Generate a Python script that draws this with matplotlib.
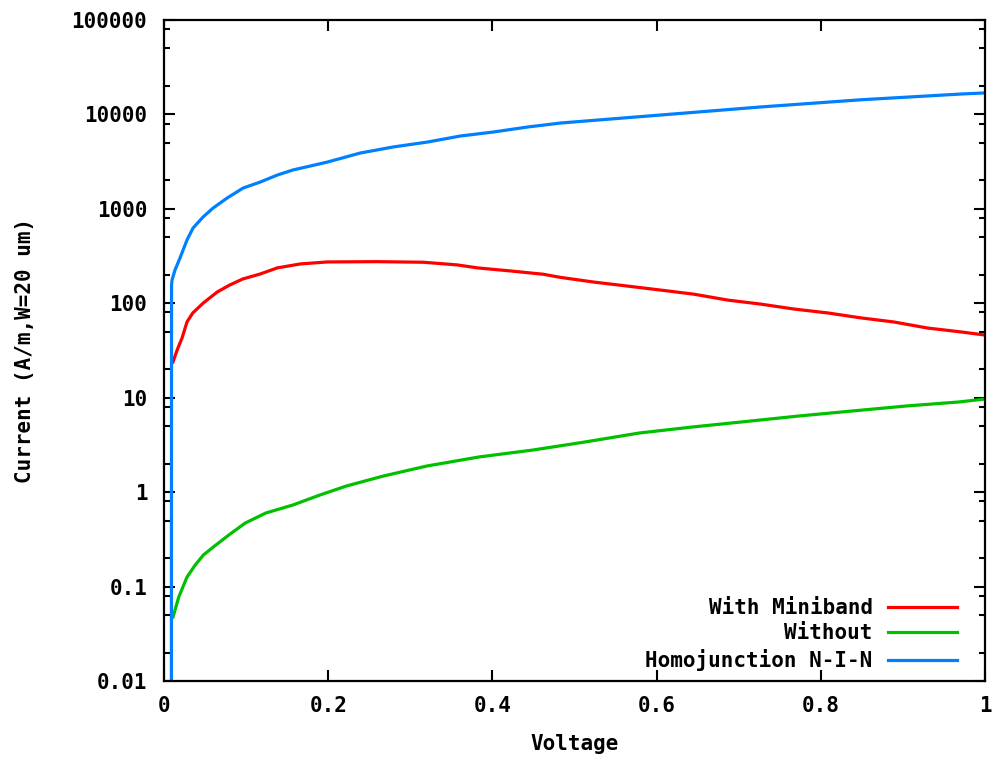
import matplotlib
matplotlib.use("Agg")
import matplotlib.pyplot as plt
from matplotlib.ticker import FixedLocator, NullFormatter

plt.rcParams['font.family'] = ['DejaVu Sans Mono']
plt.rcParams['font.weight'] = 'bold'
plt.rcParams['axes.labelweight'] = 'bold'

# voltage / current readings
miniband_v = [0.011, 0.016, 0.022, 0.028, 0.035, 0.048, 0.065, 0.080, 0.096, 0.117, 0.138, 0.166,
              0.199, 0.260, 0.316, 0.357, 0.382, 0.422, 0.462, 0.483, 0.523, 0.565, 0.605, 0.645,
              0.687, 0.727, 0.767, 0.809, 0.849, 0.889, 0.930, 0.971, 1.0]
miniband_i = [23.9, 32, 42.9, 63.4, 78.9, 101, 132, 156, 181, 204, 237, 261,
              274, 276, 272, 255, 237, 220, 203, 188, 168, 152, 138, 125,
              108, 98, 87, 78.9, 70, 63.4, 54.7, 49.7, 46.1]

without_v = [0.011, 0.018, 0.028, 0.038, 0.048, 0.060, 0.079, 0.099, 0.124, 0.157, 0.190, 0.222,
             0.267, 0.320, 0.384, 0.449, 0.513, 0.579, 0.644, 0.709, 0.773, 0.838, 0.904, 0.968, 1.0]
without_i = [0.0476, 0.0776, 0.126, 0.169, 0.216, 0.262, 0.352, 0.471, 0.601, 0.731, 0.933, 1.16,
             1.48, 1.89, 2.36, 2.79, 3.40, 4.23, 4.90, 5.60, 6.40, 7.23, 8.17, 9.01, 9.69]

homo_v = [0.009, 0.0092, 0.0098, 0.0134, 0.0195, 0.028, 0.0354, 0.0476, 0.0598, 0.0768, 0.0963,
          0.117, 0.138, 0.157, 0.178, 0.199, 0.239, 0.279, 0.321, 0.361, 0.401, 0.443, 0.483,
          0.605, 0.727, 0.849, 0.971, 1.0]
homo_i = [0.009, 156, 177, 225, 302, 468, 627, 820, 1020, 1300, 1660,
          1920, 2280, 2580, 2840, 3130, 3900, 4520, 5100, 5910, 6510, 7360, 8110,
          9860, 12000, 14300, 16450, 16900]

yticks = [0.01, 0.1, 1, 10, 100, 1000, 10000, 100000]
ytick_labels = ['0.01', '0.1', '1', '10', '100', '1000', '10000', '100000']
xticks = [0, 0.2, 0.4, 0.6, 0.8, 1]
xtick_labels = ['0', '0.2', '0.4', '0.6', '0.8', '1']

fig = plt.figure(figsize=(9.95, 7.57), dpi=100)
ax = fig.add_axes([164 / 995, 1 - 681 / 757, (985 - 164) / 995, (681 - 20) / 757])

ax.plot(miniband_v, miniband_i, color='#ff0000', lw=2.3, label='With Miniband')
ax.plot(without_v, without_i, color='#00c000', lw=2.3, label='Without')
ax.plot(homo_v, homo_i, color='#0080ff', lw=2.3, label='Homojunction N-I-N')

ax.set_yscale('log')
ax.set_xlim(0, 1)
ax.set_ylim(0.01, 100000)
ax.set_yticks(yticks)
ax.set_yticklabels(ytick_labels)
ax.set_xticks(xticks)
ax.set_xticklabels(xtick_labels)
minors = [m * 10.0 ** e for e in range(-2, 5) for m in (2, 5, 8)]
ax.yaxis.set_minor_locator(FixedLocator(minors))
ax.yaxis.set_minor_formatter(NullFormatter())

ax.tick_params(which='both', direction='in', top=True, right=True, width=1.5, labelsize=15)
ax.tick_params(which='major', length=8)
ax.tick_params(axis='y', which='major', pad=12)
ax.tick_params(axis='x', which='major', pad=11)
ax.tick_params(which='minor', length=4)
for s in ax.spines.values():
    s.set_linewidth(1.6)

ax.set_xlabel('Voltage', fontsize=15, labelpad=13)
ax.set_ylabel('Current (A/m,W=20 um)', fontsize=15, labelpad=26)

ax.legend(loc='lower right', frameon=False, markerfirst=False, fontsize=15,
          handlelength=3.3, handletextpad=0.75, labelspacing=0.27,
          borderpad=0, borderaxespad=0, bbox_to_anchor=(0.966, 0.015))

fig.savefig('out.png', dpi=100)
